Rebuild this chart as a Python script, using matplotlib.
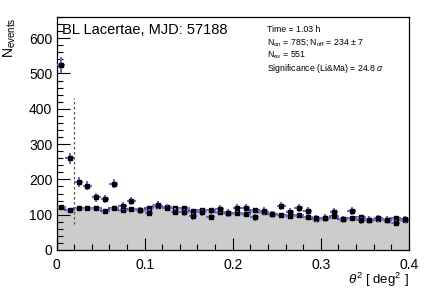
import numpy as np
import matplotlib.pyplot as plt
from matplotlib.ticker import MultipleLocator

plt.rcParams['font.family'] = ['Liberation Sans', 'DejaVu Sans']
plt.rcParams['mathtext.fontset'] = 'custom'
plt.rcParams['mathtext.rm'] = 'Liberation Sans'
plt.rcParams['mathtext.it'] = 'Liberation Sans:italic'

# theta^2 bins (0.01 deg^2 wide)
edges = np.round(np.arange(0, 0.4001, 0.01), 3)
centers = edges[:-1] + 0.005

# ON events per bin
n_on = [525, 260, 193, 182, 149, 144, 188, 124, 139, 112,
        106, 128, 120, 109, 107, 95, 107, 94, 116, 105,
        118, 118, 93, 110, 101, 124, 109, 118, 110, 90,
        92, 109, 88, 110, 84, 86, 90, 86, 77, 87]
# OFF events per bin (scaled)
n_off = [122, 112, 118, 120, 119, 110, 118, 113, 115, 114,
         118, 125, 121, 120, 120, 110, 114, 112, 107, 104,
         104, 103, 112, 108, 101, 99, 97, 99, 94, 89,
         91, 97, 88, 90, 93, 86, 89, 86, 91, 86]
alpha = 0.21
theta2_cut = 0.02

stats = ['Time = 1.03 h',
         r'N$_{\rm on}$ = 785; N$_{\rm off}$ = 234 $\pm$ 7',
         r'N$_{\rm ex}$ = 551',
         r'Significance (Li&Ma) = 24.8 $\sigma$']

n_on = np.array(n_on, float)
n_off = np.array(n_off, float)

fig = plt.figure(figsize=(4.36, 2.88), dpi=100)
ax = fig.add_axes([0.1296, 0.132, 0.8084, 0.809])

ax.stairs(n_off, edges, fill=True, color='#cccccc', zorder=1)
ax.stairs(n_off, edges, baseline=None, color='#1a1a9a', lw=1.2, zorder=2)
ax.errorbar(centers, n_off, xerr=0.005, yerr=np.sqrt(n_off * alpha), fmt='s',
            ms=2.3, color='black', ecolor='#8c8ce0', elinewidth=1.8, capsize=0, zorder=3)
ax.errorbar(centers, n_on, xerr=0.005, yerr=np.sqrt(n_on), fmt='s',
            ms=2.3, color='black', ecolor='#6a6ad0', elinewidth=1.5, capsize=0, zorder=4)
ax.vlines(theta2_cut, 75, 430, colors='#555555', linestyles=(0, (2, 2)), lw=0.9, zorder=5)

ax.set_xlim(0, 0.4)
ax.set_ylim(0, 660)
ax.xaxis.set_major_locator(MultipleLocator(0.1))
ax.xaxis.set_minor_locator(MultipleLocator(0.02))
ax.yaxis.set_major_locator(MultipleLocator(100))
ax.yaxis.set_minor_locator(MultipleLocator(20))
ax.xaxis.set_major_formatter(plt.FuncFormatter(lambda v, p: '0' if v == 0 else f'{v:g}'))
ax.tick_params(which='both', direction='in', top=False, right=False, labelsize=10, width=0.8)
ax.tick_params(which='major', length=9)
ax.tick_params(which='minor', length=4.5)
ax.tick_params(axis='x', pad=6)
ax.tick_params(axis='y', pad=3)
for s in ax.spines.values():
    s.set_linewidth(0.9)

# axis titles placed like ROOT does (top-left / bottom-right)
fig.text(0.022, 0.941, r'N$_{\rm events}$', rotation=90, fontsize=10,
         ha='center', va='top')
fig.text(0.938, 0.028, r'$\theta^{2}$ [ deg$^{2}$ ]', fontsize=9.5,
         ha='right', va='center')

ax.text(0.016, 0.975, 'BL Lacertae, MJD: 57188', transform=ax.transAxes,
        fontsize=10.5, va='top', ha='left')
for i, line in enumerate(stats):
    ax.text(0.597, 0.965 - i * 0.053, line, transform=ax.transAxes,
            fontsize=6.3, va='top', ha='left')

fig.savefig('out.png', dpi=100)
